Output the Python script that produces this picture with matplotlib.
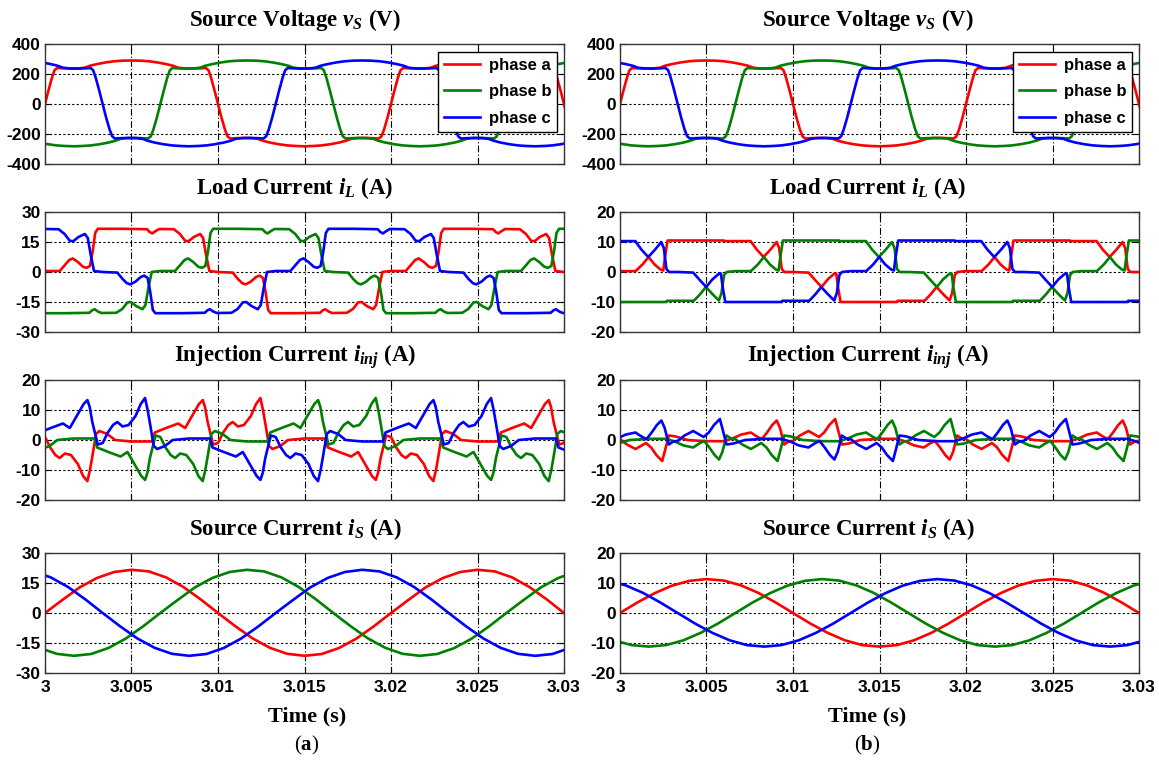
import numpy as np
import matplotlib
matplotlib.use('Agg')
import matplotlib.pyplot as plt

plt.rcParams['font.family'] = 'Liberation Serif'
plt.rcParams['mathtext.fontset'] = 'custom'
plt.rcParams['mathtext.rm'] = 'Liberation Serif:bold'
plt.rcParams['mathtext.it'] = 'Liberation Serif:italic:bold'
plt.rcParams['mathtext.bf'] = 'Liberation Serif:bold'

# one period (20 ms) of phase a; t in ms after 3 s
PERIOD = 20.0

vs_t = [0, 0.2, 0.4, 0.55, 0.7, 1.0, 1.5, 2.0, 2.3, 2.6, 3.0, 3.5, 4.0, 4.5, 5.0,
        5.5, 6.0, 6.5, 7.0, 7.4, 7.7, 8.0, 8.5, 9.0, 9.3, 9.45, 9.6, 9.8,
        10.0, 10.2, 10.4, 10.55, 10.7, 11.0, 11.5, 12.0, 12.3, 12.6, 13.0, 13.5, 14.0, 14.5, 15.0,
        15.5, 16.0, 16.5, 17.0, 17.4, 17.7, 18.0, 18.5, 19.0, 19.3, 19.45, 19.6, 19.8]
vs_a = [0, 90, 175, 225, 240, 238, 236, 238, 242, 255, 266, 277, 285, 289, 290,
        289, 285, 277, 266, 255, 242, 238, 236, 238, 240, 225, 175, 90,
        0, -90, -170, -215, -230, -228, -226, -228, -232, -245, -257, -268, -276, -280, -282,
        -280, -276, -268, -257, -245, -232, -228, -226, -228, -230, -215, -170, -90]

# load current, case (a)
ilA_t = [0, 0.85, 1.15, 1.4, 1.6, 1.9, 2.2, 2.4, 2.6, 2.75, 2.9, 3.05, 4.5, 5.9, 6.05, 6.2, 6.4, 6.6, 7.45, 7.8, 8.1, 8.3, 8.6, 8.97, 9.14, 9.3, 9.5,
         10.0, 10.85, 11.15, 11.4, 11.6, 11.9, 12.2, 12.4, 12.6, 12.75, 12.9, 13.05, 14.5, 15.9, 16.05, 16.2, 16.4, 16.6, 17.45, 17.8, 18.1, 18.3, 18.6, 18.97, 19.14, 19.3, 19.5]
ilA_a = [0.5, 0.5, 3.5, 6.0, 6.8, 5.0, 2.6, 2.1, 3.0, 10.0, 19.5, 21.6, 21.6, 21.4, 20.0, 19.3, 20.5, 21.5, 21.4, 19.0, 15.6, 15.4, 17.5, 19.0, 17.0, 9.0, 0.5,
         0, -0.3, -3.5, -5.6, -6.2, -4.8, -2.5, -1.8, -3.0, -10.0, -19.0, -20.6, -20.6, -20.4, -19.2, -18.6, -19.8, -20.5, -20.4, -18.5, -15.2, -15.0, -17.0, -18.6, -16.5, -8.5, 0]

# load current, case (b)
ilB_t = [0, 0.9, 1.3, 1.65, 2.0, 2.35, 2.5, 2.6, 2.75, 4.5, 6.0, 6.05, 7.55, 7.9, 8.3, 8.7, 9.05, 9.2, 9.35, 9.5,
         10.0, 10.9, 11.25, 11.65, 12.0, 12.4, 12.5, 12.6, 12.75, 14.5, 16.0, 16.05, 17.6, 17.95, 18.3, 18.7, 19.05, 19.2, 19.35, 19.5]
ilB_a = [0.3, 0.3, 2.5, 5.0, 2.5, 0.8, 0.5, 5.0, 10.5, 10.5, 10.5, 10.3, 10.3, 7.5, 5.0, 7.5, 10.0, 8.0, 1.0, 0,
         0, -0.2, -2.5, -5.0, -2.5, -0.5, -0.5, -5.0, -10.0, -10.0, -10.0, -9.6, -9.6, -7.5, -5.0, -7.5, -9.5, -7.0, -1.0, 0]

# injection current, case (a)
ijA_t = [0, 0.3, 0.6, 0.85, 1.15, 1.5, 1.9, 2.2, 2.45, 2.6, 2.75, 2.95, 3.15, 3.6, 4.05, 5.0, 6.2, 6.35, 7.0, 7.7, 8.1, 8.5, 8.9, 9.12, 9.25, 9.4, 9.72,
         10.0, 10.3, 10.6, 10.85, 11.15, 11.5, 11.9, 12.2, 12.45, 12.6, 12.75, 12.95, 13.15, 13.6, 14.05, 15.0, 16.2, 16.35, 17.0, 17.7, 18.1, 18.5, 18.9, 19.12, 19.25, 19.4, 19.72]
ijA_a = [1.0, -2.5, -5.0, -6.0, -4.5, -5.0, -8.0, -12.0, -13.7, -10.0, -5.0, 2.0, 3.0, 2.0, 0, -0.5, -0.5, 2.5, 4.0, 5.5, 4.0, 8.0, 12.0, 13.3, 11.0, 6.0, -1.5,
         -1.0, 2.5, 5.0, 6.0, 4.5, 5.0, 8.0, 12.0, 14.0, 10.0, 5.0, -2.0, -3.0, -2.0, 0, 0.5, 0.5, -2.5, -4.0, -5.5, -4.0, -8.0, -12.0, -13.3, -11.0, -6.0, 1.5]

# injection current, case (b)
ijB_t = [0, 0.4, 0.9, 1.2, 1.5, 1.8, 2.1, 2.44, 2.6, 2.82, 3.2, 3.9, 5.0, 6.0, 6.5, 7.0, 7.56, 7.9, 8.2, 8.5, 8.8, 9.06, 9.25, 9.49, 9.75,
         10.0, 10.4, 10.9, 11.2, 11.5, 11.8, 12.1, 12.44, 12.6, 12.82, 13.2, 13.9, 15.0, 16.0, 16.5, 17.0, 17.56, 17.9, 18.2, 18.5, 18.8, 19.06, 19.25, 19.49, 19.75]
ijB_a = [0.3, -1.5, -3.0, -2.0, -1.0, -2.5, -5.0, -7.0, -3.5, 1.5, 1.2, 0, -0.4, -0.4, 0.5, 1.8, 2.5, 1.2, 0.3, 2.5, 5.0, 6.5, 4.0, -1.5, -0.5,
         -0.3, 1.5, 3.0, 2.0, 1.0, 2.5, 5.0, 7.0, 3.5, -1.5, -1.2, 0, 0.4, 0.4, -0.5, -1.8, -2.5, -1.2, -0.3, -2.5, -5.0, -6.5, -4.0, 1.5, 0.5]

# source current, both cases
is_t = [0, 1, 2, 3, 4, 5, 6, 7, 8, 9, 10, 11, 12, 13, 14, 15, 16, 17, 18, 19]
isA_a = [0, 6.5, 12.8, 17.5, 20.5, 21.6, 20.8, 17.8, 13.0, 6.8, 0, -6.6, -12.7, -17.4, -20.4, -21.4, -20.5, -17.5, -12.8, -6.7]
isB_a = [0, 3.5, 6.6, 9.1, 10.7, 11.3, 10.8, 9.2, 6.7, 3.5, 0, -3.5, -6.6, -9.1, -10.7, -11.2, -10.7, -9.1, -6.6, -3.5]

phase_names = ['phase a', 'phase b', 'phase c']
phase_lags = [0.0, PERIOD / 3, -PERIOD / 3]
colors = ['#ff0000', '#008000', '#0000ff']

titles = ['Source Voltage $v_S$ (V)', 'Load Current $i_L$ (A)',
          'Injection Current $i_{inj}$ (A)', 'Source Current $i_S$ (A)']

xticks = [3.0, 3.005, 3.01, 3.015, 3.02, 3.025, 3.03]
xticklabels = ['3', '3.005', '3.01', '3.015', '3.02', '3.025', '3.03']

cols = [
    [(vs_t, vs_a, [-400, -200, 0, 200, 400]),
     (ilA_t, ilA_a, [-30, -15, 0, 15, 30]),
     (ijA_t, ijA_a, [-20, -10, 0, 10, 20]),
     (is_t, isA_a, [-30, -15, 0, 15, 30])],
    [(vs_t, vs_a, [-400, -200, 0, 200, 400]),
     (ilB_t, ilB_a, [-20, -10, 0, 10, 20]),
     (ijB_t, ijB_a, [-20, -10, 0, 10, 20]),
     (is_t, isB_a, [-20, -10, 0, 10, 20])],
]
col_labels = [r'($\mathbf{a}$)', r'($\mathbf{b}$)']


def phase_curve(t_ms, vals, lag):
    t_ms = np.asarray(t_ms, dtype=float)
    vals = np.asarray(vals, dtype=float)
    tt = np.concatenate([t_ms + lag + k * PERIOD for k in range(-1, 3)])
    vv = np.tile(vals, 4)
    return 3.0 + tt / 1000.0, vv


W, H = 1159, 765
fig = plt.figure(figsize=(W / 100, H / 100), dpi=100)

lefts = [45, 620]
tops = [44, 212, 380, 553]
aw, ah = 519, 120
title_x = [0.482, 0.478]
label_x = [307, 867]

for ci, col in enumerate(cols):
    for ri, (t_ms, va, yt) in enumerate(col):
        ax = fig.add_axes([lefts[ci] / W, 1 - (tops[ri] + ah) / H, aw / W, ah / H])
        for name, lag, c in zip(phase_names, phase_lags, colors):
            x, y = phase_curve(t_ms, va, lag)
            ax.plot(x, y, '-', color=c, lw=1.9, label=name)
        ax.set_xlim(3.0, 3.03)
        ax.set_ylim(yt[0], yt[-1])
        ax.set_yticks(yt)
        ax.set_yticklabels([str(v) for v in yt], fontfamily='Liberation Sans',
                           fontweight='bold', fontsize=12.5)
        ax.set_xticks(xticks)
        for v in yt[1:-1]:
            ax.axhline(v, color='k', lw=0.8, ls=(0, (2, 2)), zorder=0.5)
        for v in xticks[1:-1]:
            ax.axvline(v, color='k', lw=0.8, ls=(0, (6, 2, 1, 2)), zorder=0.5)
        ax.tick_params(direction='in', length=4, top=True, right=True, pad=3)
        ax.tick_params(axis='x', pad=5)
        if ri == 3:
            ax.set_xticklabels(xticklabels, fontfamily='Liberation Sans',
                               fontweight='bold', fontsize=12.5)
            ax.set_xlabel('Time (s)', fontsize=16, fontweight='bold')
            ax.xaxis.set_label_coords((label_x[ci] - lefts[ci]) / aw, -0.28)
            ax.xaxis.label.set_va('top')
        else:
            ax.set_xticklabels([])
        for sp in ax.spines.values():
            sp.set_linewidth(1.0)
            sp.set_color('#333333')
        ax.set_title(titles[ri], fontsize=16.5, fontweight='bold', pad=13, x=title_x[ci])
        if ri == 0:
            leg = ax.legend(loc='upper right', bbox_to_anchor=(0.987, 0.935),
                            borderaxespad=0, fancybox=False, framealpha=1,
                            edgecolor='k', handlelength=2.2, handletextpad=0.5,
                            labelspacing=0.7, borderpad=0.35,
                            prop={'family': 'Liberation Sans', 'weight': 'bold', 'size': 12})
            leg.get_frame().set_linewidth(1.0)
    fig.text(label_x[ci] / W, 1 - 745 / H, col_labels[ci], ha='center', va='center',
             fontsize=15)

fig.savefig('out.png', dpi=100)
